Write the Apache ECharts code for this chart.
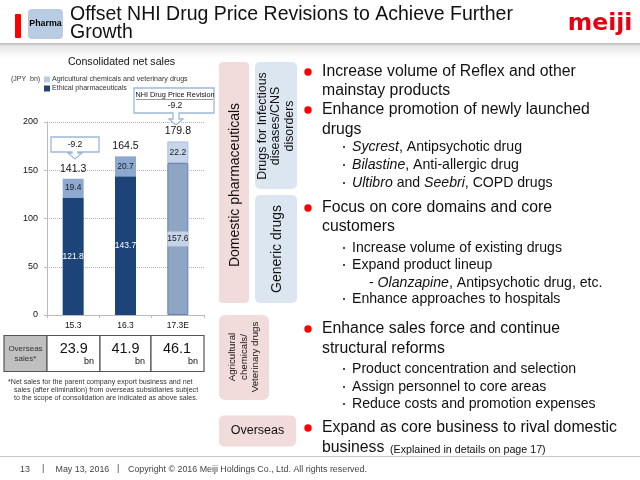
<!DOCTYPE html>
<html>
<head>
<meta charset="utf-8">
<style>html,body{margin:0;padding:0;background:#fff}#main{width:640px;height:480px}</style>
<script src="https://cdn.jsdelivr.net/npm/echarts@6/dist/echarts.min.js"></script>
</head>
<body>
<div id="main"></div>
<script>
var FONT = '"Liberation Sans", Arial, sans-serif';

// chart data
var categories = ['15.3', '16.3', '17.3E'];
var ethical = [121.8, 143.7, 157.6];
var agri = [19.4, 20.7, 22.2];
var totals = [141.3, 164.5, 179.8];
var yTicks = [0, 50, 100, 150, 200];
var overseasSales = ['23.9', '41.9', '46.1'];
var ESTIMATE = 2; // index of the forecast bar, drawn paler

var chart = echarts.init(document.getElementById('main'));

function txt(x, y, text, size, extra) {
    var style = { x: x, y: y, text: text, fontSize: size, fontFamily: FONT, fill: '#111', verticalAlign: 'middle', align: 'left' };
    for (var k in (extra || {})) style[k] = extra[k];
    return { type: 'text', z: 20, style: style };
}

function vtxt(x, y, text, size) {
    return { type: 'text', z: 20, x: x, y: y, rotation: Math.PI / 2, style: { x: 0, y: 0, text: text, fontSize: size, fontFamily: FONT, fill: '#111', align: 'center', verticalAlign: 'middle', lineHeight: size + 1.5 } };
}

function box(x, y, w, h, fill, r) {
    return { type: 'rect', z: 5, shape: { x: x, y: y, width: w, height: h, r: r || 0 }, style: { fill: fill } };
}

// box with a block arrow under it, pointing at cx
function callout(x0, y0, x1, y1, cx, tip) {
    var head = tip - 6;
    return {
        type: 'polygon', z: 10,
        shape: { points: [[x0, y0], [x1, y0], [x1, y1], [cx + 3, y1], [cx + 3, head], [cx + 7, head], [cx, tip], [cx - 7, head], [cx - 3, head], [cx - 3, y1], [x0, y1]] },
        style: { fill: '#fff', stroke: '#9db8d9', lineWidth: 1.3 }
    };
}

// main bullets
var bullets = [
    ['Increase volume of Reflex and other', 72, true],
    ['mainstay products', 91],
    ['Enhance promotion of newly launched', 110, true],
    ['drugs', 130],
    ['Focus on core domains and core', 208, true],
    ['customers', 227],
    ['Enhance sales force and continue', 329, true],
    ['structural reforms', 349],
    ['Expand as core business to rival domestic', 428, true]
];
// sub bullets
var subs = [
    ['{i|Sycrest}, Antipsychotic drug', 147],
    ['{i|Bilastine}, Anti-allergic drug', 165],
    ['{i|Ultibro} and {i|Seebri}, COPD drugs', 183],
    ['Increase volume of existing drugs', 248],
    ['Expand product lineup', 265],
    ['Enhance approaches to hospitals', 299],
    ['Product concentration and selection', 369],
    ['Assign personnel to core areas', 387],
    ['Reduce costs and promotion expenses', 404]
];

var g = [];
var SUB_SIZE = 14.1, MAIN_SIZE = 15.8;
var italic = { i: { fontStyle: 'italic', fontSize: SUB_SIZE, fontFamily: FONT, fill: '#111' } };

// header
g.push({ type: 'rect', z: 1, shape: { x: 0, y: 43, width: 640, height: 15 }, style: { fill: new echarts.graphic.LinearGradient(0, 0, 0, 1, [{ offset: 0, color: '#b9b9b9' }, { offset: 0.2, color: '#e6e6e6' }, { offset: 1, color: '#ffffff' }]) } });
g.push(box(15, 14, 6, 24, '#ff0000', 1));
g.push(box(28, 9, 35, 30, '#b8cce4', 4));
g.push(txt(45.5, 24, 'Pharma', 8.8, { align: 'center', fontWeight: 'bold', fill: '#000' }));
g.push(txt(70, 15, 'Offset NHI Drug Price Revisions to Achieve Further', 19.5));
g.push(txt(70, 33, 'Growth', 19.5));
g.push(txt(600, 24, 'meiji', 23.5, { align: 'center', fontWeight: 'bold', fill: '#e60012', fontFamily: '"DejaVu Sans", sans-serif' }));

// chart title and unit
g.push(txt(121.5, 62, 'Consolidated net sales', 10.6, { align: 'center' }));
g.push(txt(11, 79, '(JPY  bn)', 7, { fill: '#333' }));

// callouts
g.push(callout(51, 137, 99, 152, 75, 159));
g.push(txt(75, 144.5, '-9.2', 8.5, { align: 'center' }));
g.push(callout(134, 88, 214, 113, 176, 125));
g.push(txt(175, 95, 'NHI Drug Price Revision', 7.3, { align: 'center' }));
g.push({ type: 'line', z: 21, shape: { x1: 136, y1: 99.5, x2: 213, y2: 99.5 }, style: { stroke: '#333', lineWidth: 0.5 } });
g.push(txt(175, 106, '-9.2', 8.5, { align: 'center' }));

// overseas sales table
var cols = [47, 100, 151, 204];
var valueX = [73.7, 125.5, 177];
g.push({ type: 'rect', z: 5, shape: { x: 4, y: 335.5, width: 43, height: 36 }, style: { fill: '#bfbfbf', stroke: '#555', lineWidth: 1.2 } });
g.push(txt(25.5, 353.5, 'Overseas\nsales*', 8, { align: 'center', lineHeight: 10, fill: '#333' }));
overseasSales.forEach(function (v, i) {
    g.push({ type: 'rect', z: 5, shape: { x: cols[i], y: 335.5, width: cols[i + 1] - cols[i], height: 36 }, style: { fill: '#fff', stroke: '#555', lineWidth: 1.2 } });
    g.push(txt(valueX[i], 349, v, 14.4, { align: 'center' }));
    g.push(txt(cols[i + 1] - 6, 362, 'bn', 9, { align: 'right' }));
});

// footnote
g.push(txt(8, 382, '*Net sales for the parent company export business and net', 7.1, { fill: '#333' }));
g.push(txt(14, 390, 'sales (after elimination) from overseas subsidiaries subject', 7.1, { fill: '#333' }));
g.push(txt(14, 398, 'to the scope of consolidation are indicated as above sales.', 7.1, { fill: '#333' }));

// segment boxes
g.push(box(219, 62, 30, 241, '#f2dcdb', 4));
g.push(box(255, 62, 42, 127, '#dce6f1', 5));
g.push(box(255, 195, 42, 108, '#dce6f1', 5));
g.push(box(219, 315, 50, 85, '#f2dcdb', 6));
g.push(box(219, 415.5, 77, 31, '#f2dcdb', 5));
g.push(vtxt(235, 185, 'Domestic pharmaceuticals', 14));
g.push(vtxt(276, 126, 'Drugs for Infectious\ndiseases/CNS\ndisorders', 12.4));
g.push(vtxt(277, 249, 'Generic drugs', 14));
g.push(vtxt(244, 357, 'Agricultural\nchemicals/\nVeterinary drugs', 9.7));
g.push(txt(257.5, 431, 'Overseas', 12.5, { align: 'center' }));

// right hand text
bullets.forEach(function (b) {
    g.push(txt(322, b[1], b[0], MAIN_SIZE));
    if (b[2]) g.push({ type: 'circle', z: 20, shape: { cx: 308, cy: b[1], r: 3.7 }, style: { fill: '#ff0000' } });
});
subs.forEach(function (s) {
    g.push({ type: 'circle', z: 20, shape: { cx: 344, cy: s[1], r: 1 }, style: { fill: '#111' } });
    g.push(txt(352, s[1], s[0], SUB_SIZE, { rich: italic }));
});
g.push(txt(369, 283, '- {i|Olanzapine}, Antipsychotic drug, etc.', SUB_SIZE, { rich: italic }));
g.push(txt(322, 448, 'business', MAIN_SIZE));
g.push(txt(390, 450, '(Explained in details on page 17)', 10.7));

// footer
g.push({ type: 'line', z: 1, shape: { x1: 0, y1: 456.5, x2: 640, y2: 456.5 }, style: { stroke: '#c8c8c8', lineWidth: 1 } });
g.push(txt(20, 470, '13', 8.9, { fill: '#444' }));
g.push(txt(42, 469, '|', 8.9, { fill: '#444' }));
g.push(txt(55.5, 470, 'May 13, 2016', 8.9, { fill: '#444' }));
g.push(txt(117, 469, '|', 8.9, { fill: '#444' }));
g.push(txt(128, 470, 'Copyright \u00a9 2016 Meiji Holdings Co., Ltd. All rights reserved.', 8.9, { fill: '#444' }));

var ethicalData = ethical.map(function (v, i) {
    var est = i == ESTIMATE;
    return {
        value: v,
        itemStyle: est ? { color: '#8fa5c3', borderColor: '#5f82ad', borderWidth: 1 } : { color: '#1d4478' },
        label: est
            ? { color: '#1a1a1a', backgroundColor: '#c5d3e6', width: 21, align: 'center', padding: [3, 0, 3, 0] }
            : { color: '#fff' }
    };
});
var agriData = agri.map(function (v, i) {
    return {
        value: v,
        itemStyle: i == ESTIMATE ? { color: '#c6d5ea', borderColor: '#a9bfdc', borderWidth: 1 } : { color: '#8ea9cf' }
    };
});

chart.setOption({
    animation: false,
    textStyle: { fontFamily: FONT },
    legend: {
        left: 44, top: 76, orient: 'vertical', icon: 'rect', itemWidth: 6, itemHeight: 6, itemGap: 2, padding: 0,
        selectedMode: false,
        textStyle: { fontSize: 7.1, color: '#333', padding: [0, 0, 0, -3] },
        data: [
            { name: 'Agricultural chemicals and veterinary drugs', itemStyle: { color: '#b8cce4' } },
            { name: 'Ethical pharmaceuticals', itemStyle: { color: '#1d4478' } }
        ]
    },
    grid: { left: 47, top: 122, width: 157, height: 193, containLabel: false },
    xAxis: {
        type: 'category', data: categories,
        axisLine: { lineStyle: { color: '#bbb' } },
        axisTick: { show: true, length: 3, lineStyle: { color: '#bbb' } },
        axisLabel: { fontSize: 8.5, color: '#111', margin: 6, fontFamily: FONT }
    },
    yAxis: {
        type: 'value', min: yTicks[0], max: yTicks[yTicks.length - 1], interval: 50,
        axisLine: { show: true, lineStyle: { color: '#bbb', width: 1 } },
        axisTick: { show: true, length: 3, lineStyle: { color: '#bbb' } },
        axisLabel: { fontSize: 9, color: '#111', margin: 9, fontFamily: FONT },
        splitLine: { lineStyle: { type: 'dotted', color: '#b0b0b0', width: 1 } }
    },
    series: [
        {
            name: 'Ethical pharmaceuticals', type: 'bar', stack: 'sales', barWidth: 21, data: ethicalData,
            label: { show: true, position: 'inside', fontSize: 8.5, formatter: function (p) { return p.value.toFixed(1); } }
        },
        {
            name: 'Agricultural chemicals and veterinary drugs', type: 'bar', stack: 'sales', barWidth: 21, data: agriData,
            label: { show: true, position: 'inside', fontSize: 8.5, color: '#1a1a1a', formatter: function (p) { return p.value.toFixed(1); } }
        },
        {
            // no visible line, it only carries the totals above the stacks
            name: 'Total', type: 'line', data: totals, symbol: 'circle', symbolSize: 1, itemStyle: { color: 'transparent' }, lineStyle: { opacity: 0 }, z: 15,
            label: { show: true, position: 'top', distance: 4, fontSize: 10.5, color: '#111', formatter: function (p) { return p.value.toFixed(1); } }
        }
    ],
    graphic: { elements: g }
});
</script>
</body>
</html>
